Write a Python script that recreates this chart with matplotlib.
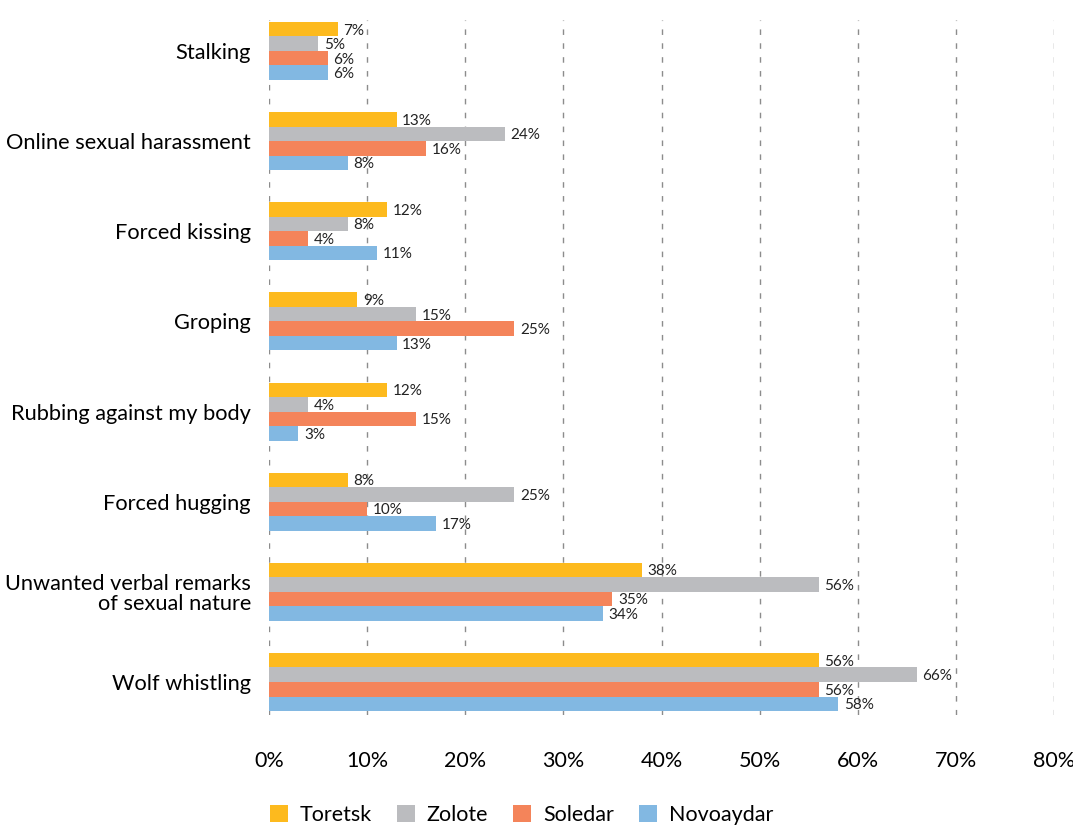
import matplotlib.pyplot as plt
import numpy as np
from matplotlib.patches import Patch

plt.rcParams['font.family'] = ['Lato', 'DejaVu Sans']

categories = ['Stalking', 'Online sexual harassment', 'Forced kissing', 'Groping',
              'Rubbing against my body', 'Forced hugging',
              'Unwanted verbal remarks\nof sexual nature', 'Wolf whistling']
towns = ['Toretsk', 'Zolote', 'Soledar', 'Novoaydar']
toretsk = [7, 13, 12, 9, 12, 8, 38, 56]
zolote = [5, 24, 8, 15, 4, 25, 56, 66]
soledar = [6, 16, 4, 25, 15, 10, 35, 56]
novoaydar = [6, 8, 11, 13, 3, 17, 34, 58]
colors = ['#FDBA1E', '#BBBCBF', '#F4845A', '#82B8E2']
xticks = [0, 10, 20, 30, 40, 50, 60, 70, 80]

series = [toretsk, zolote, soledar, novoaydar]

fig = plt.figure(figsize=(10.73, 8.27), dpi=100)
ax = fig.add_axes([0.2507, 0.135, 0.7316, 0.841])

y = np.arange(len(categories))
h = 0.161
for i, (vals, c) in enumerate(zip(series, colors)):
    pos = y + (i - 1.5) * h
    ax.barh(pos, vals, height=h, color=c, zorder=2)
    for p, v in zip(pos, vals):
        ax.annotate(f'{v}%', (v, p), xytext=(4, -1), textcoords='offset points',
                    va='center', ha='left', fontsize=11, color='#222222', zorder=3)

ax.set_xlim(0, 80)
ax.set_ylim(7.37, -0.345)
ax.set_xticks(xticks)
ax.set_xticklabels([f'{t}%' for t in xticks], fontsize=15.5)
ax.set_yticks(y)
ax.set_yticklabels(categories, fontsize=15.7, linespacing=1.0)
ax.tick_params(axis='x', length=0, pad=26)
ax.tick_params(axis='y', length=0, pad=13)
ax.grid(axis='x', color='#8c8c8c', linestyle=(0, (4, 6)), linewidth=1, zorder=0)
for s in ax.spines.values():
    s.set_visible(False)

handles = [Patch(facecolor=c, label=t) for t, c in zip(towns, colors)]
fig.legend(handles=handles, loc='center', bbox_to_anchor=(0.486, 0.015), ncol=4,
           frameon=False, fontsize=15.5, handlelength=0.85, handleheight=0.85,
           handletextpad=0.55, columnspacing=1.15)

fig.savefig('out.png', dpi=100)
